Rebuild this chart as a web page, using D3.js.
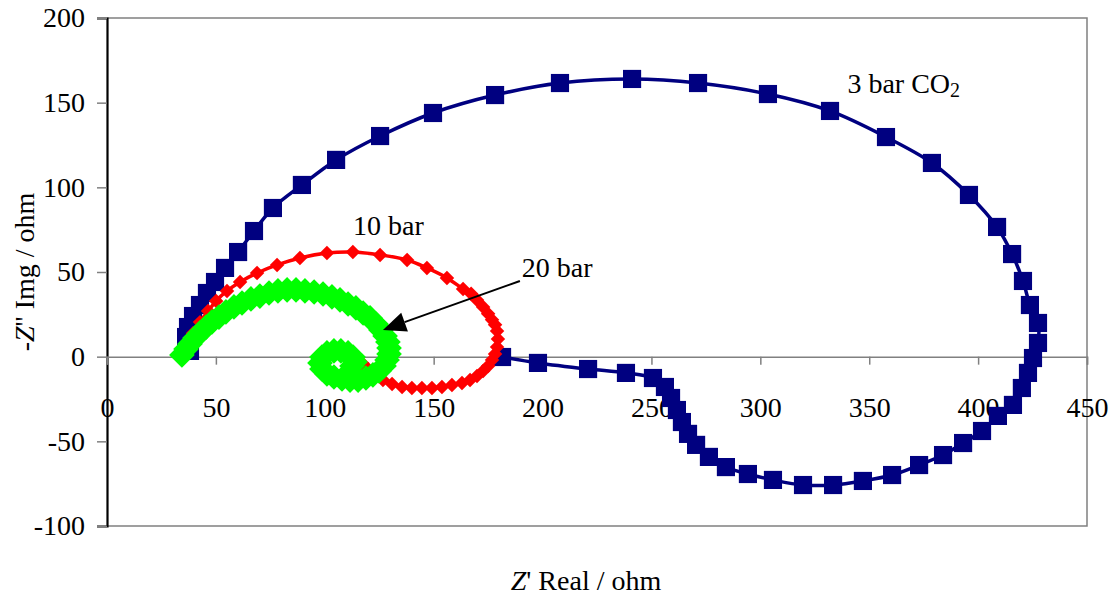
<!DOCTYPE html>
<html><head><meta charset="utf-8">
<script src="https://cdn.jsdelivr.net/npm/d3@7"></script>
<style>
html,body{margin:0;padding:0;background:#fff;}
svg text{font-family:"Liberation Serif","Times New Roman",serif;fill:#000;}
</style></head>
<body><svg id="c" width="1117" height="601"></svg>
<script>
// ---- data (Z' real, -Z'' imaginary, ohm) ----
const bar3Real = [38.1,36.3,36.3,37.2,39.5,42.7,45.9,49.6,54.2,60.2,67.5,76.2,89.5,105.2,125.4,149.7,178.2,208.0,241.1,271.4,303.5,332.0,357.7,378.8,395.8,408.7,415.6,420.6,423.8,427.5,427.5,425.2,422.9,420.1,416.0,409.1,401.8,393.1,383.9,372.9,360.5,347.1,333.4,319.6,305.8,294.3,284.2,276.4,270.5,266.8,264.0,261.7,259.0,256.2,250.7,238.3,220.9,197.9,181.4];
const bar3Img  = [3.4,7.5,11.6,17.5,24.0,30.5,37.6,44.1,52.4,61.8,74.2,87.8,101.4,116.2,130.3,143.9,154.5,161.6,164.0,161.6,155.1,145.1,129.7,114.4,95.5,76.6,60.6,44.7,30.5,19.9,8.1,-0.8,-9.6,-18.5,-28.5,-35.0,-43.9,-51.0,-58.1,-64.0,-69.9,-73.4,-75.8,-75.8,-72.8,-69.3,-65.2,-59.2,-52.1,-45.6,-38.6,-31.5,-24.4,-17.9,-12.6,-9.6,-7.3,-3.7,-0.2];

const bar10Real = [34.9,36.7,39.5,42.7,46.4,50.1,55.1,61.1,68.9,78.1,88.6,101.0,112.9,125.4,137.8,146.9,156.1,163.5,167.2,169.9,172.7,175.0,176.8,178.2,179.1,179.5,179.1,178.2,176.8,175.0,172.7,169.9,166.7,163.0,158.4,153.8,149.2,144.6,140.0,135.5,130.9,126.7,123.1,119.9,117.1];
const bar10Img  = [2.8,8.1,13.9,20.4,26.9,32.9,38.8,44.1,49.4,54.2,58.3,61.2,61.8,60.1,57.1,52.4,46.5,40.0,37.2,33.5,29.4,25.3,21.8,18.9,15.2,10.5,5.7,1.6,-1.9,-5.5,-8.4,-11.4,-13.8,-15.6,-16.7,-17.9,-18.5,-18.5,-18.5,-17.9,-16.1,-13.8,-10.8,-7.3,-3.7];

const bar20Real = [34.4,36.3,38.1,40.4,42.7,45.5,48.2,51.4,54.6,58.3,62.0,66.1,70.2,74.4,78.5,82.7,86.8,90.9,95.1,99.2,103.3,107.0,110.7,114.3,117.6,120.8,123.5,125.8,127.7,129.0,129.5,129.5,128.6,127.2,124.9,122.1,118.9,115.3,111.6,107.9,104.2,101.0,98.7,97.8,98.7,101.0,104.2,107.4,110.7,113.0,113.9,112.5];
const bar20Img  = [1.0,4.5,7.5,11.0,14.0,17.5,20.5,23.4,26.4,29.4,31.7,34.1,35.8,37.6,38.8,39.4,39.4,38.8,38.2,37.0,35.3,33.5,31.1,28.8,25.8,22.9,19.3,15.8,12.2,8.7,5.1,1.6,-1.9,-5.5,-8.4,-10.8,-12.6,-13.8,-13.8,-13.2,-12.0,-10.2,-7.3,-3.7,-0.2,2.2,3.4,3.4,2.2,-0.2,-3.1,-5.5];

const xTicks = [0,50,100,150,200,250,300,350,400,450];
const yTicks = [-100,-50,0,50,100,150,200];

// ---- layout ----
const svg = d3.select("#c");
const L = 107, R = 1087, T = 18, B = 526;
const x = d3.scaleLinear().domain([0,450]).range([L,R]);
const y = d3.scaleLinear().domain([-100,200]).range([B,T]);
const gray = "#808080";
const fmt = d => String(d);

// plot border (top, right, bottom)
svg.append("path").attr("d",`M${L},${T}H${R}V${B}H${L}`)
  .attr("fill","none").attr("stroke",gray).attr("stroke-width",1.5);

// y axis
const ya = svg.append("g").attr("transform",`translate(${L},0)`)
  .call(d3.axisLeft(y).tickValues(yTicks).tickSize(10).tickPadding(12).tickFormat(fmt));
ya.select(".domain").attr("stroke","#000").attr("stroke-width",2.2);
ya.selectAll(".tick line").attr("stroke",gray).attr("stroke-width",1.5);
ya.selectAll(".tick text").attr("font-size",28).attr("font-family","Liberation Serif");

// x axis at zero
const xa = svg.append("g").attr("transform",`translate(0,${y(0)})`)
  .call(d3.axisBottom(x).tickValues(xTicks).tickSize(8).tickPadding(32).tickFormat(fmt));
xa.select(".domain").attr("stroke",gray).attr("stroke-width",1.5);
xa.selectAll(".tick line").attr("stroke",gray).attr("stroke-width",1.5);
xa.selectAll(".tick text").attr("font-size",28).attr("font-family","Liberation Serif");

// series
const curve = d3.curveCatmullRom.alpha(0.5);
function series(xs, ys, color, sym, size, rot, lw){
  const pts = xs.map((v,i)=>[x(v), y(ys[i])]);
  svg.append("path").attr("d", d3.line().curve(curve)(pts))
    .attr("fill","none").attr("stroke",color).attr("stroke-width",lw);
  const s = d3.symbol().type(sym).size(size);
  svg.append("g").selectAll("path").data(pts).join("path")
    .attr("d", s).attr("fill",color)
    .attr("transform", d=>`translate(${d[0]},${d[1]}) rotate(${rot})`);
}
series(bar3Real, bar3Img, "#000080", d3.symbolSquare, 330, 0, 3.5);
series(bar10Real, bar10Img, "#FF0000", d3.symbolSquare, 105, 45, 3.5);
series(bar20Real, bar20Img, "#00FF00", d3.symbolSquare, 330, 45, 4);

// annotations
const lab3 = svg.append("text").attr("x", x(340)).attr("y", y(156)).attr("font-size",28);
lab3.append("tspan").text("3 bar CO");
lab3.append("tspan").text("2").attr("font-size",20).attr("dy",4);
svg.append("text").attr("x", x(113)).attr("y", y(72)).attr("font-size",28).text("10 bar");
svg.append("text").attr("x", x(190.5)).attr("y", y(47)).attr("font-size",28).text("20 bar");

// arrow
const ax0 = x(189.6), ay0 = y(44.7), ax1 = x(126.7), ay1 = y(15.8);
const ang = Math.atan2(ay1-ay0, ax1-ax0);
const hl = 23, hw = 10;
const bx = ax1 - hl*Math.cos(ang), by = ay1 - hl*Math.sin(ang);
svg.append("line").attr("x1",ax0).attr("y1",ay0).attr("x2",bx).attr("y2",by)
  .attr("stroke","#000").attr("stroke-width",2);
svg.append("path").attr("d",
  `M${ax1},${ay1}L${bx - hw*Math.sin(ang)},${by + hw*Math.cos(ang)}L${bx + hw*Math.sin(ang)},${by - hw*Math.cos(ang)}Z`)
  .attr("fill","#000");

// axis titles
const xt = svg.append("text").attr("x",586).attr("y",590).attr("text-anchor","middle").attr("font-size",28);
xt.append("tspan").text("Z").attr("font-style","italic");
xt.append("tspan").text("' Real / ohm");
const yt = svg.append("text").attr("transform","translate(34,272) rotate(-90)").attr("text-anchor","middle").attr("font-size",28);
yt.append("tspan").text("-");
yt.append("tspan").text("Z").attr("font-style","italic");
yt.append("tspan").text("'' Img / ohm");
</script></body></html>
